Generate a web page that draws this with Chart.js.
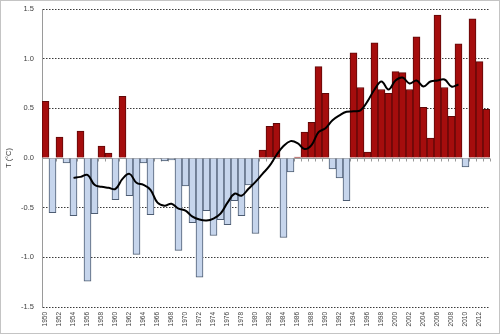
<!DOCTYPE html>
<html>
<head>
<meta charset="utf-8">
<script src="https://cdn.jsdelivr.net/npm/chart.js@4/dist/chart.umd.min.js"></script>
<style>
  html,body{margin:0;padding:0;background:#fff;}
  #wrap{width:500px;height:334px;box-sizing:border-box;border:1px solid #c4c4c4;}
  canvas{display:block;}
</style>
</head>
<body>
<div id="wrap"><canvas id="tChart" width="498" height="332"></canvas></div>
<script>
const years = ['1950','1951','1952','1953','1954','1955','1956','1957','1958','1959',
  '1960','1961','1962','1963','1964','1965','1966','1967','1968','1969',
  '1970','1971','1972','1973','1974','1975','1976','1977','1978','1979',
  '1980','1981','1982','1983','1984','1985','1986','1987','1988','1989',
  '1990','1991','1992','1993','1994','1995','1996','1997','1998','1999',
  '2000','2001','2002','2003','2004','2005','2006','2007','2008','2009',
  '2010','2011','2012','2013'];

// annual anomaly (°C)
const anomaly = [0.57,-0.55,0.21,-0.05,-0.58,0.27,-1.24,-0.56,0.12,0.05,
  -0.42,0.62,-0.38,-0.97,-0.05,-0.57,-0.01,-0.03,-0.02,-0.93,
  -0.28,-0.65,-1.20,-0.53,-0.78,-0.62,-0.67,-0.43,-0.58,-0.27,
  -0.76,0.08,0.32,0.35,-0.80,-0.14,0.01,0.26,0.36,0.92,
  0.65,-0.11,-0.20,-0.43,1.06,0.71,0.06,1.16,0.69,0.65,
  0.87,0.86,0.69,1.22,0.51,0.20,1.44,0.71,0.42,1.15,
  -0.09,1.40,0.97,0.49];

// running mean, 1954-2009
const smooth = [null,null,null,null,-0.20,-0.19,-0.17,-0.27,-0.29,-0.30,
  -0.31,-0.21,-0.16,-0.25,-0.27,-0.32,-0.45,-0.48,-0.46,-0.51,
  -0.53,-0.59,-0.62,-0.63,-0.61,-0.56,-0.45,-0.36,-0.38,-0.31,
  -0.24,-0.16,-0.08,0.03,0.12,0.17,0.15,0.09,0.13,0.26,
  0.30,0.38,0.43,0.465,0.47,0.48,0.57,0.69,0.77,0.69,
  0.78,0.81,0.75,0.78,0.72,0.77,0.78,0.79,0.72,0.74,
  null,null,null,null];

const yTicks = [-1.5,-1.0,-0.5,0.0,0.5,1.0,1.5];

const zeroAxis = {
  id:'zeroAxis',
  beforeDatasetsDraw(chart){
    const {ctx, chartArea:a, scales:{x,y}} = chart;
    const y0 = Math.round(y.getPixelForValue(0))+0.5;
    ctx.save();
    ctx.strokeStyle='#9a9a9a'; ctx.lineWidth=1;
    ctx.beginPath(); ctx.moveTo(a.left,y0); ctx.lineTo(a.right,y0);
    const w = x.getPixelForValue(1)-x.getPixelForValue(0);
    for(let i=0;i<=years.length;i++){
      const px = Math.round(x.getPixelForValue(0)-w/2+i*w)+0.5;
      ctx.moveTo(px,y0); ctx.lineTo(px,y0+3);
    }
    ctx.stroke();
    ctx.restore();
  }
};

new Chart(document.getElementById('tChart'), {
  data:{
    labels: years,
    datasets:[
      {type:'line', data:smooth, borderColor:'#000', borderWidth:2, pointRadius:0, tension:0.4, spanGaps:false, order:0},
      {type:'bar', data:anomaly,
        backgroundColor: anomaly.map(v=> v>=0 ? '#a50d0d' : '#c6d5ec'),
        borderColor: anomaly.map(v=> v>=0 ? '#5e0808' : '#4d5c72'),
        borderWidth:1, categoryPercentage:1, barPercentage:1, order:1}
    ]
  },
  options:{
    responsive:false, animation:false, devicePixelRatio:1,
    layout:{padding:{left:0, top:8, right:9, bottom:0}},
    plugins:{legend:{display:false}, tooltip:{enabled:false}},
    scales:{
      x:{
        grid:{display:false, drawTicks:false},
        border:{display:false},
        ticks:{autoSkip:false, maxRotation:90, minRotation:90, padding:5, color:'#404040',
          font:{family:'Liberation Sans', size:6.5},
          callback:(v,i)=> i%2===0 ? years[i] : ''},
        afterFit(s){ s.height = 26; s.paddingLeft = 0; s.paddingRight = 0; }
      },
      y:{
        min:-1.5, max:1.5,
        afterBuildTicks(s){ s.ticks = yTicks.map(v=>({value:v})); },
        grid:{color:'#3a3a3a', lineWidth:1, drawTicks:false},
        border:{display:true, color:'#9a9a9a', dash:[1.5,1.5]},
        ticks:{padding:8, color:'#404040', font:{family:'Liberation Sans', size:7.5},
          callback:v=> Number(v).toFixed(1)},
        title:{display:true, text:'T (°C)', color:'#404040', padding:{top:3,bottom:0},
          font:{family:'Liberation Sans', size:7.5}},
        afterFit(s){ s.width = 41; s.paddingTop = 0; s.paddingBottom = 0; }
      }
    }
  },
  plugins:[zeroAxis]
});
</script>
</body>
</html>
